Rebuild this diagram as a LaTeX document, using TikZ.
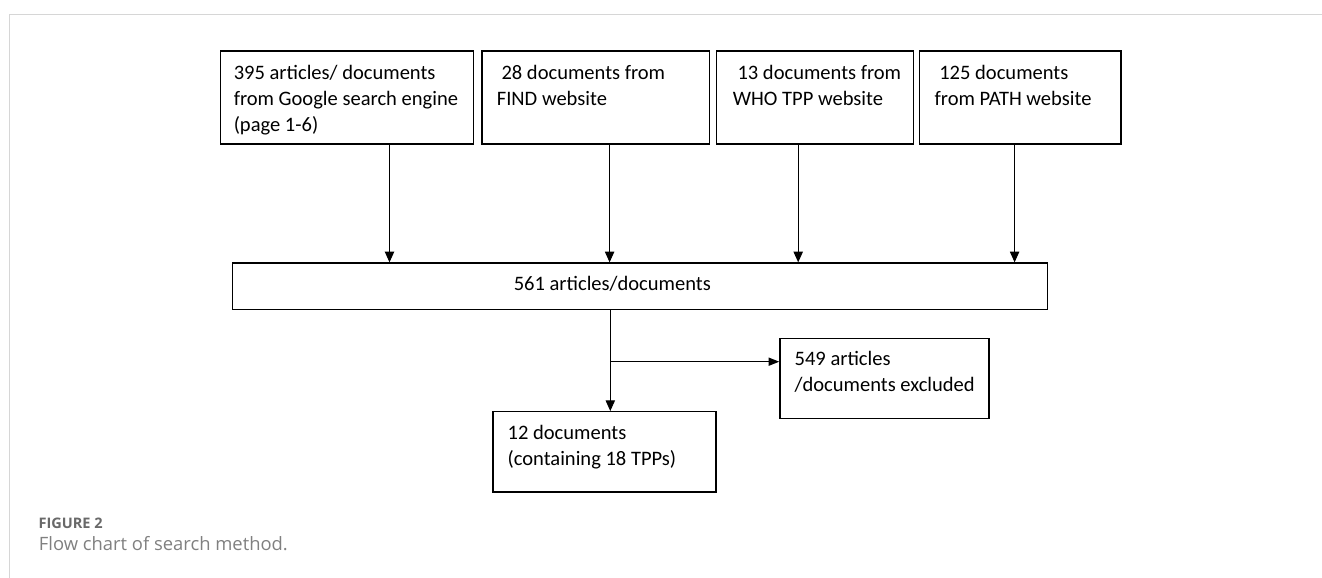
\documentclass[tikz,border=0pt]{standalone}
\usepackage{fontspec}
\usetikzlibrary{arrows.meta,fit}
\newfontfamily\boxfont{Carlito}
\newfontfamily\capfont{Open Sans}
\definecolor{framegray}{RGB}{214,214,214}
\definecolor{figgray}{RGB}{105,105,105}
\definecolor{capgray}{RGB}{128,128,128}
\tikzset{
  box/.style={draw, line width=1pt, inner sep=0pt},
  txt/.style={anchor=base west, inner sep=0pt, align=left, font=\boxfont\fontsize{15.4}{19.5}\selectfont},
  arr/.style={line width=0.75pt, -{Triangle[length=8pt,width=7pt]}},
  arrthick/.style={line width=1.1pt, -{Triangle[length=8pt,width=6pt]}},
}
\begin{document}
\begin{tikzpicture}[x=0.75pt,y=0.75pt,yscale=-1,xscale=1]
\useasboundingbox (0,0) rectangle (1322,578);

%Straight Lines (frame)
\draw[framegray, line width=0.75pt] (9,578) -- (9,14) -- (1322,14);

%Shape: Rectangle (sources)
\node[box, fit={(220.5,51) (473.8,144)}] (google) {};
\node[box, fit={(482,51) (709.3,144)}] (find) {};
\node[box, fit={(716.2,51) (913.3,144)}] (who) {};
\node[box, fit={(919.6,51) (1121,144)}] (path) {};
%Shape: Rectangle (pooled)
\node[box, fit={(232.7,263) (1047.5,309.3)}] (pool) {};
%Shape: Rectangle (excluded)
\node[box, fit={(780,338.3) (989,418.3)}] (excl) {};
%Shape: Rectangle (included)
\node[box, fit={(493,411.7) (716,492)}] (kept) {};

%Straight Lines
\draw[arr] (google.south -| 389.5,0) -- (pool.north -| 389.5,0);
\draw[arr] (find.south -| 609.6,0) -- (pool.north -| 609.6,0);
\draw[arr] (who.south -| 798.2,0) -- (pool.north -| 798.2,0);
\draw[arr] (path.south -| 1014.6,0) -- (pool.north -| 1014.6,0);
%Straight Lines
\draw[arr] (pool.south -| 610.3,0) -- (kept.north -| 610.3,0);
\coordinate (split) at (610.3,361.7);
\draw[arrthick] (split) -- (split -| excl.west);

% Text Node (base = last line)
\node[txt] (tgoogle) at (233.5,131) {395 articles/ documents\\from Google search engine\\(page 1-6)};
% Text Node
\node[txt] (tfind) at (496.6,105) {\ 28 documents from\\FIND website};
% Text Node
\node[txt] (twho) at (732.6,105) {\ 13 documents from\\WHO TPP website};
% Text Node
\node[txt] (tpath) at (934.4,105) {\ 125 documents\\from PATH website};
% Text Node
\node[txt] (tpool) at (513.5,290.7) {561 articles/documents};
% Text Node
\node[txt] (texcl) at (794.4,391.5) {549 articles\\/documents excluded};
% Text Node
\node[txt] (tkept) at (507.4,465.2) {12 documents\\(containing 18 TPPs)};

% Text Node (caption)
\node[anchor=base west, inner sep=0pt, text=figgray, font=\capfont\bfseries\fontsize{10.9}{13}\selectfont] (fignum) at (38.3,528.3) {FIGURE 2};
\node[anchor=base west, inner sep=0pt, text=capgray, font=\capfont\fontsize{13.8}{16}\selectfont] (figcap) at (38.6,550.7) {Flow chart of search method.};

\end{tikzpicture}
\end{document}
